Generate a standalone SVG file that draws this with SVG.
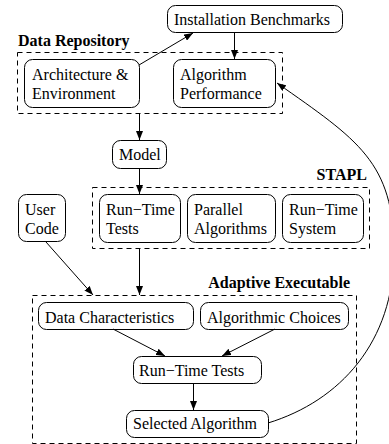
<svg xmlns="http://www.w3.org/2000/svg" width="389" height="444" viewBox="0 0 389 444">
<style>
.node{fill:#fff;stroke:#000;stroke-width:1}
.grp{fill:none;stroke:#000;stroke-width:1;stroke-dasharray:5,4}
text{font-family:"Liberation Serif","Times New Roman",serif;font-size:16px;fill:#000}
.b{font-weight:bold}
.edge{fill:none;stroke:#000;stroke-width:1;marker-end:url(#ah)}
</style>
<defs>
<marker id="ah" markerUnits="userSpaceOnUse" markerWidth="9" markerHeight="7" refX="9" refY="3.5" orient="auto">
<path d="M0,0 L9,3.5 L0,7 z" fill="#000"/>
</marker>
</defs>
<rect width="389" height="444" fill="#fff"/>
<g id="grp-data-repository">
<rect class="grp" x="17.5" y="52.5" width="265" height="61"/>
<text class="b" x="18" y="46">Data Repository</text>
</g>
<g id="grp-stapl">
<rect class="grp" x="92.5" y="187.5" width="277" height="61"/>
<text class="b" x="367" y="180" text-anchor="end">STAPL</text>
</g>
<g id="grp-adaptive">
<rect class="grp" x="32.5" y="295.5" width="324" height="148"/>
<text class="b" x="350" y="288" text-anchor="end">Adaptive Executable</text>
</g>
<g id="n-install">
<rect class="node" x="167.5" y="5.5" width="175" height="27" rx="8"/>
<text x="174" y="25">Installation Benchmarks</text>
</g>
<g id="n-arch">
<rect class="node" x="24.5" y="59.5" width="115" height="48" rx="8"/>
<text x="32" y="80">Architecture &amp;</text>
<text x="32" y="99">Environment</text>
</g>
<g id="n-algperf">
<rect class="node" x="173.5" y="59.5" width="102" height="48" rx="8"/>
<text x="180" y="80">Algorithm</text>
<text x="180" y="99">Performance</text>
</g>
<g id="n-model">
<rect class="node" x="112.5" y="140.5" width="54" height="28" rx="8"/>
<text x="119" y="160">Model</text>
</g>
<g id="n-usercode">
<rect class="node" x="18.5" y="194.5" width="47" height="47" rx="8"/>
<text x="25" y="215">User</text>
<text x="25" y="234">Code</text>
</g>
<g id="n-rtt-stapl">
<rect class="node" x="99.5" y="194.5" width="81" height="48" rx="8"/>
<text x="106" y="215">Run−Time</text>
<text x="106" y="234">Tests</text>
</g>
<g id="n-parallel">
<rect class="node" x="187.5" y="194.5" width="88" height="48" rx="8"/>
<text x="194" y="215">Parallel</text>
<text x="194" y="234">Algorithms</text>
</g>
<g id="n-rts">
<rect class="node" x="282.5" y="194.5" width="81" height="48" rx="8"/>
<text x="289" y="215">Run−Time</text>
<text x="289" y="234">System</text>
</g>
<g id="n-datachar">
<rect class="node" x="38.5" y="302.5" width="155" height="27" rx="8"/>
<text x="45" y="323">Data Characteristics</text>
</g>
<g id="n-algchoices">
<rect class="node" x="200.5" y="302.5" width="148" height="27" rx="8"/>
<text x="207" y="323">Algorithmic Choices</text>
</g>
<g id="n-rtt">
<rect class="node" x="133.5" y="356.5" width="128" height="27" rx="8"/>
<text x="139" y="376">Run−Time Tests</text>
</g>
<g id="n-selected">
<rect class="node" x="126.5" y="410.5" width="142" height="27" rx="8"/>
<text x="133" y="429">Selected Algorithm</text>
</g>
<g id="connectors">
<path class="edge" d="M139,65 L193,33"/>
<path class="edge" d="M234.5,32 L234.5,59"/>
<path class="edge" d="M139.5,113 L139.5,140"/>
<path class="edge" d="M139.5,169 L139.5,194"/>
<path class="edge" d="M46,242 L93,295"/>
<path class="edge" d="M139.5,248 L139.5,295"/>
<path class="edge" d="M113,329 L165,356"/>
<path class="edge" d="M275,329 L222,356"/>
<path class="edge" d="M193.5,383 L193.5,410"/>
<path class="edge" d="M268,423 C340,401 394,342 394,252 C394,162 358,140 277,83"/>
</g>
</svg>
